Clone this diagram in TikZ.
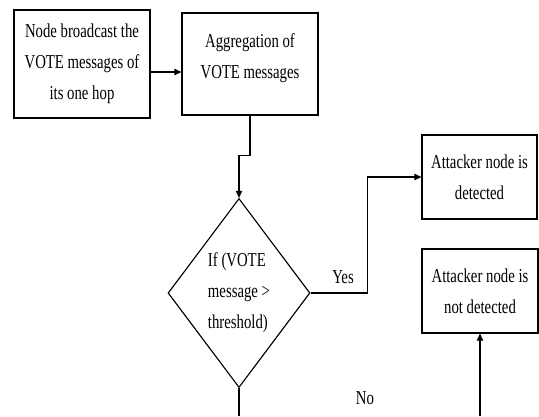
\documentclass[tikz,border=0pt]{standalone}
\usepackage{fontspec}
\setmainfont[FakeStretch=0.75]{Liberation Serif}
\usetikzlibrary{shapes.geometric,arrows.meta}

\begin{document}
\begin{tikzpicture}[x=0.025cm, y=-0.025cm,
        font=\fontsize{14}{22}\selectfont,
        box/.style={draw, line width=0.8pt, align=center, inner sep=2pt},
        link/.style={line width=1pt},
        flow/.style={link, -{Triangle[length=5pt,width=4.5pt]}}]
        \useasboundingbox (0,0) rectangle (539,416);

        \node [box, minimum width=3.4cm, minimum height=2.7cm] (bcast) at (82,64)
        {Node broadcast the\\VOTE messages of\\its one hop};
        \node [box, minimum width=3.4cm, minimum height=2.55cm] (aggr) at (250,64)
        {Aggregation of\\VOTE messages\\[-11pt]\mbox{}};
        \node [draw, diamond, line width=0.8pt, align=left, inner sep=0pt,
        minimum width=3.425cm, minimum height=4.725cm] (check) at (239,293)
        {If (VOTE\\message >\\threshold)};
        \node [box, minimum width=2.875cm, minimum height=2.1cm] (found) at (479.5,177)
        {Attacker node is\\detected};
        \node [box, minimum width=2.9cm, minimum height=2.1cm] (missed) at (480,291)
        {Attacker node is\\not detected};

        \node (yes) at (343,277) {Yes};
        \node (no) at (365,398) {No};
        \coordinate (bottom) at (0,416);

        \draw [flow] ([yshift=-0.2cm]bcast.east) -- ([yshift=-0.2cm]aggr.west);
        \draw [flow] (aggr.south) -- ++(0,40) -| (check.north);
        \draw [flow] (check.east) -- ++(57,0) |- (found.west);
        \draw [link] (check.south) -- (check.south |- bottom);
        \draw [flow] (missed.south |- bottom) -- (missed.south);
\end{tikzpicture}
\end{document}
